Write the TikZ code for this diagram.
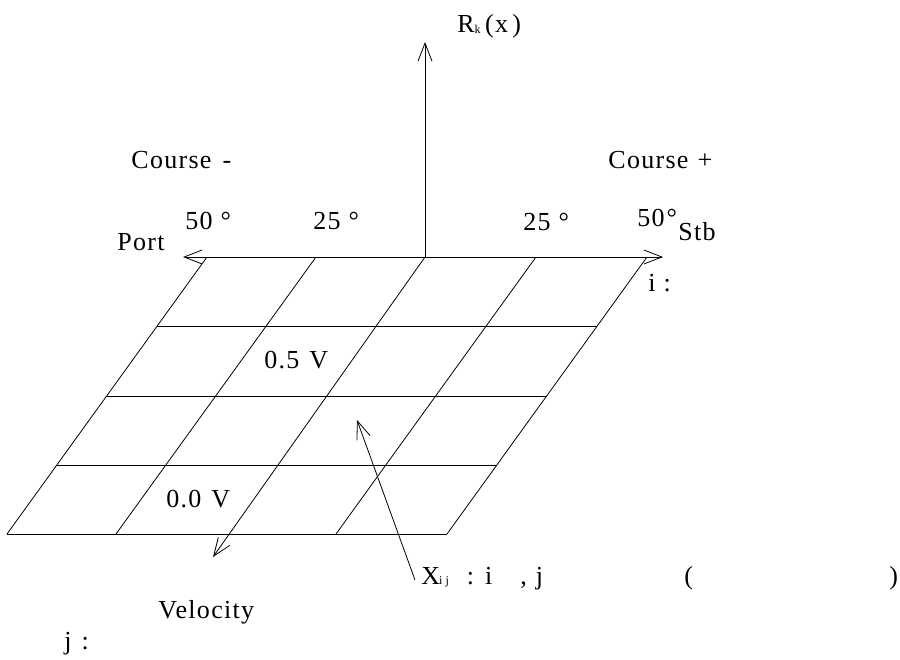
\documentclass[tikz,border=0pt]{standalone}
\usepackage{fontspec}
\setmainfont{Liberation Serif}[LetterSpace=5]
\usetikzlibrary{arrows.meta}
\begin{document}
\begin{tikzpicture}[x=1pt,y=-1pt,line width=0.8pt,
  lbl/.style={inner sep=0pt,anchor=base west,font=\fontsize{26}{26}\selectfont},
  arr/.style={-{Straight Barb[length=18pt,width=14pt,line width=0.8pt]}},
  darr/.style={{Straight Barb[length=18pt,width=14pt,line width=0.8pt]}-{Straight Barb[length=18pt,width=14pt,line width=0.8pt]}}]
\useasboundingbox (0,0) rectangle (900,659);
% key points
\coordinate (o) at (425,257);
\coordinate (ztip) at (425,42);
\coordinate (ltip) at (183,257);
\coordinate (rtip) at (663,257);
\coordinate (vtip) at (213,557);
\coordinate (xs) at (415,580);
\coordinate (xt) at (357,420);
% top and bottom corners of the grid columns
\coordinate (t0) at (207,257); \coordinate (b0) at (7,534);
\coordinate (t1) at (316,257); \coordinate (b1) at (116,534);
\coordinate (t3) at (536,257); \coordinate (b3) at (336,534);
\coordinate (t4) at (647,257); \coordinate (b4) at (447,534);
% rows
\coordinate (l1) at (157,326); \coordinate (r1) at (597,326);
\coordinate (l2) at (107,396); \coordinate (r2) at (547,396);
\coordinate (l3) at (57,465);  \coordinate (r3) at (497,465);
% axes
\draw[arr] (o) -- (ztip);
\draw[darr] (ltip) -- (rtip);
\draw[arr] (o) -- (vtip);
% grid
\draw (t0) -- (b0);
\draw (t1) -- (b1);
\draw (t3) -- (b3);
\draw (t4) -- (b4);
\draw (l1) -- (r1);
\draw (l2) -- (r2);
\draw (l3) -- (r3);
\draw (b0) -- (b4);
% X_ij arrow
\draw[arr] (xs) -- (xt);
% labels
\node[lbl] (rk) at (457,32) {R\raisebox{-1pt}{\fontsize{12}{12}\selectfont k}\,(x\,)};
\node[lbl] (cm) at (131,168) {Course\hspace{11pt}-};
\node[lbl] (cp) at (608,168) {Course\hspace{9pt}+};
\node[lbl] (port) at (117,250) {Port};
\node[lbl] (stb) at (678,240) {Stb};
\node[lbl] (d1) at (185,229) {50\hspace{8pt}°};
\node[lbl] (d2) at (313,229) {25\hspace{8pt}°};
\node[lbl] (d3) at (523,230) {25\hspace{8pt}°};
\node[lbl] (d4) at (637,226) {50\hspace{2pt}°};
\node[lbl] (il) at (648,291) {i\hspace{8pt}:};
\node[lbl] (v5) at (264,368) {0.5\hspace{10pt}V};
\node[lbl] (v0) at (166,507) {0.0\hspace{10pt}V};
\node[lbl] (vel) at (158,618) {Velocity};
\node[lbl] (xl) at (421,584) {X\hspace{-1pt}{\fontsize{12}{12}\selectfont i\hspace{3pt}j}\hspace{18pt}:\hspace{11pt}i\hspace{28pt},\hspace{9pt}j};
\node[lbl] (pl) at (684,584) {(};
\node[lbl] (pr) at (889,584) {)};
\node[lbl] (jl) at (64,649) {j\hspace{10pt}:};
\end{tikzpicture}
\end{document}
